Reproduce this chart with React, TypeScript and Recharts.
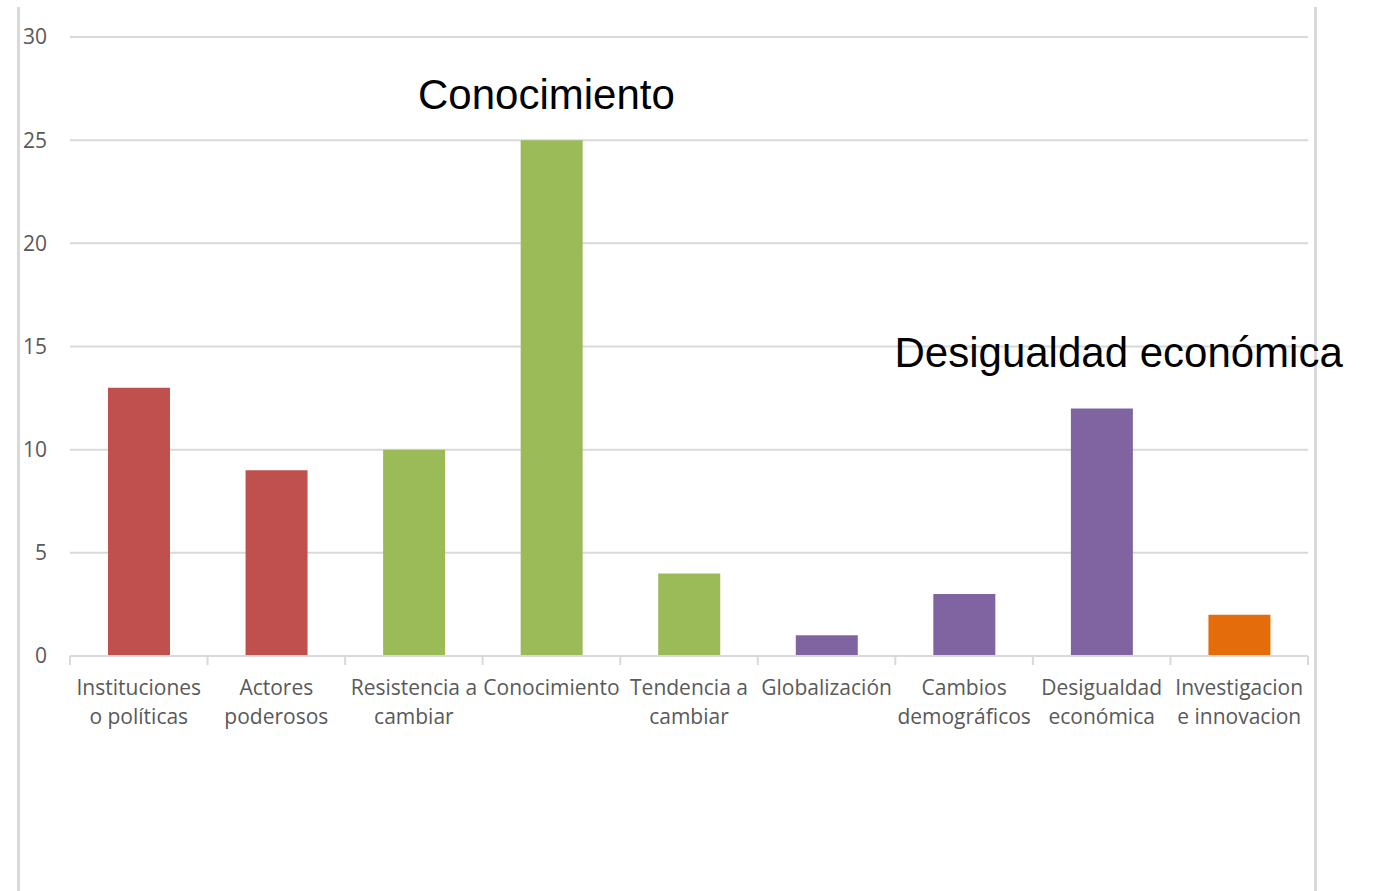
import React from 'react';
import { BarChart, Bar, XAxis, YAxis, CartesianGrid, Cell, ReferenceDot } from 'recharts';

const categories = [
  'Instituciones o políticas',
  'Actores poderosos',
  'Resistencia a cambiar',
  'Conocimiento',
  'Tendencia a cambiar',
  'Globalización',
  'Cambios demográficos',
  'Desigualdad económica',
  'Investigacion e innovacion',
];
const labelLines = [
  ['Instituciones', 'o políticas'],
  ['Actores', 'poderosos'],
  ['Resistencia a', 'cambiar'],
  ['Conocimiento'],
  ['Tendencia a', 'cambiar'],
  ['Globalización'],
  ['Cambios', 'demográficos'],
  ['Desigualdad', 'económica'],
  ['Investigacion', 'e innovacion'],
];
const values = [13, 9, 10, 25, 4, 1, 3, 12, 2];
const barColors = ['#C0504D', '#C0504D', '#9BBB59', '#9BBB59', '#9BBB59', '#8064A2', '#8064A2', '#8064A2', '#E46C0A'];
const yTicks = [0, 5, 10, 15, 20, 25, 30];

const data = categories.map((c, i) => ({ name: c, value: values[i] }));

const FONT = '"Open Sans", "Noto Sans", sans-serif';
const GREY = '#595959';

const CatTick = (props: any) => {
  const { x, y, payload, index } = props;
  const idx = categories.indexOf(payload.value);
  const lines = labelLines[idx] || [payload.value];
  const half = payload.offset || 0;
  const isLast = index === categories.length - 1;
  return (
    <g>
      <line x1={x - half} x2={x - half} y1={y} y2={y + 9} stroke="#d9d9d9" strokeWidth={2} />
      {isLast && <line x1={x + half} x2={x + half} y1={y} y2={y + 9} stroke="#d9d9d9" strokeWidth={2} />}
      <text x={x} y={y} textAnchor="middle" fill={GREY} fontFamily={FONT} fontSize={21}>
        {lines.map((l, i) => (
          <tspan key={i} x={x} y={y + 39 + i * 29}>{l}</tspan>
        ))}
      </text>
    </g>
  );
};

const makeLabel = (text: string, dx: number) => (p: any) => {
  const vb = p.viewBox || {};
  const cx = (vb.x || 0) + (vb.width || 0) / 2 + dx;
  const cy = (vb.y || 0) + (vb.height || 0) / 2;
  return (
    <text x={cx} y={cy} textAnchor="middle" dominantBaseline="central" fill="#000"
      fontFamily='"Liberation Sans", Arial, sans-serif' fontSize={42}>{text}</text>
  );
};

export default function App() {
  return (
    <div style={{ position: 'absolute', left: 0, top: 0, width: 1373, height: 891, background: '#fff' }}>
      <div style={{ position: 'absolute', left: 17, top: 7, width: 1294, height: 884, borderLeft: '3px solid #d9d9d9', borderRight: '3px solid #d9d9d9' }} />
      <div style={{ position: 'absolute', left: 0, top: 0 }}>
        <BarChart width={1373} height={891} data={data} margin={{ top: 37, right: 65, left: 20, bottom: 155 }} barSize={62}>
          <CartesianGrid vertical={false} stroke="#d9d9d9" strokeWidth={2} />
          <XAxis dataKey="name" interval={0} height={80} axisLine={{ stroke: '#d9d9d9', strokeWidth: 2 }}
            tickLine={false} tickSize={0} tickMargin={0} tick={<CatTick />} />
          <YAxis domain={[0, 30]} ticks={yTicks} width={50} axisLine={false} tickLine={false} tickSize={0} tickMargin={23}
            tick={{ fill: GREY, fontFamily: FONT, fontSize: 21 }} />
          <Bar dataKey="value" isAnimationActive={false}>
            {data.map((d, i) => (
              <Cell key={i} fill={barColors[i]} />
            ))}
          </Bar>
          <ReferenceDot x="Conocimiento" y={27.2} r={0} fill="none" stroke="none" label={makeLabel('Conocimiento', -5)} />
          <ReferenceDot x="Desigualdad económica" y={14.73} r={0} fill="none" stroke="none" label={makeLabel('Desigualdad económica', 17)} />
        </BarChart>
      </div>
    </div>
  );
}
